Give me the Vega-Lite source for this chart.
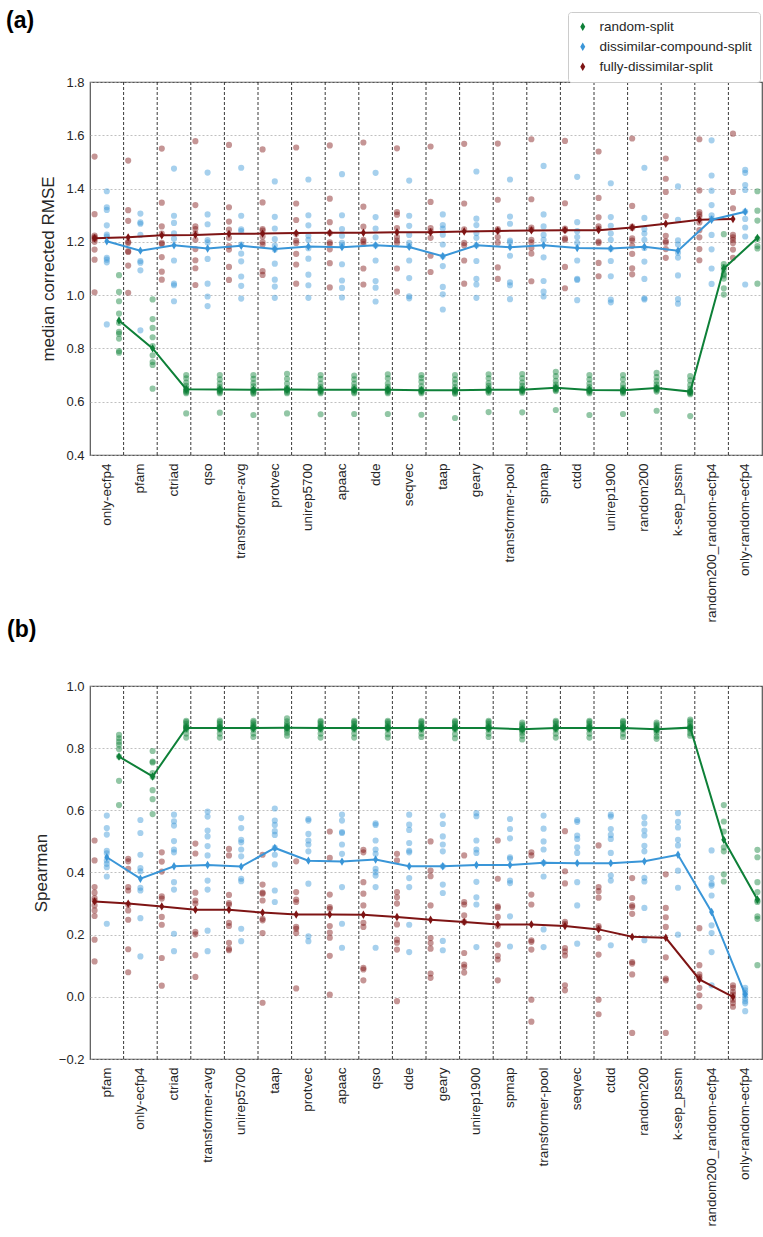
{
  "$schema": "https://vega.github.io/schema/vega-lite/v6.json",
  "padding": {"left": 5, "top": 8, "right": 0, "bottom": 0},
  "background": "white",
  "config": {
    "font": "Liberation Sans",
    "view": {"stroke": "#555555", "strokeWidth": 1.2},
    "axis": {"domain": false, "ticks": false, "labelColor": "#262626", "titleColor": "#262626", "labelFont": "Liberation Sans", "titleFont": "Liberation Sans", "titleFontWeight": "normal"},
    "title": {"font": "Liberation Sans", "color": "#000000"}
  },
  "bounds": "flush",
  "spacing": 231,
  "resolve": {"legend": {"color": "independent"}},
  "datasets": {
    "gridA": [{"category": "pfam"}, {"category": "ctriad"}, {"category": "qso"}, {"category": "transformer-avg"}, {"category": "protvec"}, {"category": "unirep5700"}, {"category": "apaac"}, {"category": "dde"}, {"category": "seqvec"}, {"category": "taap"}, {"category": "geary"}, {"category": "transformer-pool"}, {"category": "spmap"}, {"category": "ctdd"}, {"category": "unirep1900"}, {"category": "random200"}, {"category": "k-sep_pssm"}, {"category": "random200_random-ecfp4"}, {"category": "only-random-ecfp4"}],
    "gridB": [{"category": "only-ecfp4"}, {"category": "ctriad"}, {"category": "transformer-avg"}, {"category": "unirep5700"}, {"category": "taap"}, {"category": "protvec"}, {"category": "apaac"}, {"category": "qso"}, {"category": "dde"}, {"category": "geary"}, {"category": "unirep1900"}, {"category": "spmap"}, {"category": "transformer-pool"}, {"category": "seqvec"}, {"category": "ctdd"}, {"category": "random200"}, {"category": "k-sep_pssm"}, {"category": "random200_random-ecfp4"}, {"category": "only-random-ecfp4"}],
    "ptsA": [
      {"category": "only-ecfp4", "split": "fully-dissimilar-split", "value": [1.52,1.304,1.224,1.218,1.214,1.21,1.2,1.171,1.133,1.011]},
      {"category": "only-ecfp4", "split": "dissimilar-compound-split", "value": [1.39,1.33,1.32,1.262,1.227,1.22,1.14,1.133,1.123,0.89]},
      {"category": "only-ecfp4", "split": "random-split", "value": [1.075,1.012,0.977,0.931,0.896,0.862,0.855,0.837,0.79,0.784]},
      {"category": "pfam", "split": "fully-dissimilar-split", "value": [1.505,1.319,1.279,1.2,1.196,1.165,1.162,1.111,1.009]},
      {"category": "pfam", "split": "dissimilar-compound-split", "value": [1.306,1.273,1.268,1.226,1.128,1.122,1.093,0.868]},
      {"category": "pfam", "split": "random-split", "value": [0.984,0.91,0.877,0.842,0.809,0.774,0.749,0.738,0.649]},
      {"category": "ctriad", "split": "fully-dissimilar-split", "value": [1.55,1.347,1.258,1.231,1.196,1.192,1.143,1.088,1.058]},
      {"category": "ctriad", "split": "dissimilar-compound-split", "value": [1.475,1.298,1.271,1.232,1.212,1.13,1.043,1.037,0.977]},
      {"category": "ctriad", "split": "random-split", "value": [0.7,0.688,0.672,0.66,0.65,0.645,0.64,0.636,0.632,0.556]},
      {"category": "qso", "split": "fully-dissimilar-split", "value": [1.578,1.338,1.258,1.248,1.231,1.208,1.173,1.131,1.101,1.038]},
      {"category": "qso", "split": "dissimilar-compound-split", "value": [1.46,1.303,1.266,1.207,1.198,1.136,1.043,0.995,0.959]},
      {"category": "qso", "split": "random-split", "value": [0.7,0.684,0.668,0.655,0.648,0.645,0.64,0.636,0.632,0.559]},
      {"category": "transformer-avg", "split": "fully-dissimilar-split", "value": [1.564,1.33,1.276,1.246,1.215,1.184,1.171,1.106,1.057]},
      {"category": "transformer-avg", "split": "dissimilar-compound-split", "value": [1.478,1.298,1.247,1.24,1.19,1.156,1.127,1.07,1.035,0.987]},
      {"category": "transformer-avg", "split": "random-split", "value": [0.7,0.686,0.67,0.658,0.646,0.643,0.638,0.634,0.63,0.55]},
      {"category": "protvec", "split": "fully-dissimilar-split", "value": [1.547,1.348,1.248,1.242,1.22,1.199,1.19,1.09,1.076]},
      {"category": "protvec", "split": "dissimilar-compound-split", "value": [1.427,1.294,1.25,1.21,1.186,1.171,1.118,1.058,1.032,0.99]},
      {"category": "protvec", "split": "random-split", "value": [0.705,0.686,0.668,0.652,0.648,0.646,0.642,0.636,0.632,0.556]},
      {"category": "unirep5700", "split": "fully-dissimilar-split", "value": [1.554,1.344,1.282,1.23,1.205,1.196,1.155,1.115,1.043]},
      {"category": "unirep5700", "split": "dissimilar-compound-split", "value": [1.434,1.3,1.262,1.223,1.208,1.176,1.137,1.077,1.037,0.99]},
      {"category": "unirep5700", "split": "random-split", "value": [0.7,0.686,0.668,0.655,0.648,0.645,0.64,0.636,0.632,0.553]},
      {"category": "apaac", "split": "fully-dissimilar-split", "value": [1.562,1.362,1.274,1.233,1.198,1.192,1.172,1.12,1.029]},
      {"category": "apaac", "split": "dissimilar-compound-split", "value": [1.454,1.3,1.248,1.223,1.196,1.187,1.116,1.055,1.027,0.991]},
      {"category": "apaac", "split": "random-split", "value": [0.698,0.684,0.668,0.655,0.648,0.645,0.642,0.636,0.632,0.554]},
      {"category": "dde", "split": "fully-dissimilar-split", "value": [1.573,1.332,1.257,1.208,1.201,1.192,1.1,1.04]},
      {"category": "dde", "split": "dissimilar-compound-split", "value": [1.459,1.293,1.25,1.217,1.187,1.13,1.053,1.028,0.976]},
      {"category": "dde", "split": "random-split", "value": [0.703,0.688,0.668,0.656,0.648,0.645,0.64,0.636,0.632,0.554]},
      {"category": "seqvec", "split": "fully-dissimilar-split", "value": [1.551,1.312,1.302,1.252,1.218,1.205,1.196,1.1,1.013]},
      {"category": "seqvec", "split": "dissimilar-compound-split", "value": [1.43,1.298,1.26,1.226,1.196,1.184,1.13,1.064,0.996,0.988]},
      {"category": "seqvec", "split": "random-split", "value": [0.7,0.689,0.675,0.658,0.646,0.643,0.64,0.636,0.632,0.551]},
      {"category": "taap", "split": "fully-dissimilar-split", "value": [1.558,1.35,1.252,1.24,1.215,1.148,1.087]},
      {"category": "taap", "split": "dissimilar-compound-split", "value": [1.303,1.263,1.25,1.227,1.19,1.146,1.109,1.031,1.003,0.946]},
      {"category": "taap", "split": "random-split", "value": [0.7,0.684,0.67,0.655,0.646,0.643,0.638,0.634,0.63,0.539]},
      {"category": "geary", "split": "fully-dissimilar-split", "value": [1.568,1.344,1.247,1.196,1.187,1.13,1.043]},
      {"category": "geary", "split": "dissimilar-compound-split", "value": [1.464,1.287,1.263,1.233,1.215,1.187,1.128,1.061,1.04,0.99]},
      {"category": "geary", "split": "random-split", "value": [0.703,0.688,0.67,0.66,0.65,0.646,0.643,0.638,0.634,0.561]},
      {"category": "transformer-pool", "split": "fully-dissimilar-split", "value": [1.569,1.358,1.248,1.242,1.218,1.197,1.104,1.061]},
      {"category": "transformer-pool", "split": "dissimilar-compound-split", "value": [1.434,1.295,1.268,1.205,1.198,1.148,1.048,1.037,0.985]},
      {"category": "transformer-pool", "split": "random-split", "value": [0.704,0.688,0.672,0.66,0.65,0.646,0.642,0.638,0.634,0.56]},
      {"category": "spmap", "split": "fully-dissimilar-split", "value": [1.585,1.36,1.254,1.246,1.208,1.198,1.177,1.156,1.052]},
      {"category": "spmap", "split": "dissimilar-compound-split", "value": [1.485,1.303,1.258,1.226,1.208,1.142,1.053,1.013,0.995]},
      {"category": "spmap", "split": "random-split", "value": [0.712,0.696,0.678,0.664,0.656,0.652,0.648,0.644,0.64,0.569]},
      {"category": "ctdd", "split": "fully-dissimilar-split", "value": [1.579,1.345,1.25,1.244,1.213,1.208,1.106,1.026]},
      {"category": "ctdd", "split": "dissimilar-compound-split", "value": [1.444,1.274,1.24,1.218,1.196,1.13,1.061,1.057,0.981]},
      {"category": "ctdd", "split": "random-split", "value": [0.7,0.684,0.668,0.655,0.647,0.644,0.64,0.636,0.632,0.55]},
      {"category": "unirep1900", "split": "fully-dissimilar-split", "value": [1.539,1.365,1.292,1.258,1.25,1.201,1.196,1.121,1.071]},
      {"category": "unirep1900", "split": "dissimilar-compound-split", "value": [1.42,1.293,1.26,1.231,1.208,1.174,1.128,1.071,0.983,0.973]},
      {"category": "unirep1900", "split": "random-split", "value": [0.7,0.684,0.665,0.652,0.646,0.643,0.64,0.636,0.632,0.554]},
      {"category": "random200", "split": "fully-dissimilar-split", "value": [1.588,1.335,1.257,1.252,1.213,1.205,1.185,1.155,1.101,1.078]},
      {"category": "random200", "split": "dissimilar-compound-split", "value": [1.478,1.29,1.248,1.231,1.208,1.177,1.126,1.061,0.988,0.984]},
      {"category": "random200", "split": "random-split", "value": [0.708,0.692,0.677,0.664,0.655,0.651,0.647,0.643,0.638,0.566]},
      {"category": "k-sep_pssm", "split": "fully-dissimilar-split", "value": [1.513,1.437,1.387,1.297,1.223,1.203,1.197,1.173,1.14]},
      {"category": "k-sep_pssm", "split": "dissimilar-compound-split", "value": [1.408,1.283,1.206,1.19,1.159,1.141,1.074,0.985,0.968]},
      {"category": "k-sep_pssm", "split": "random-split", "value": [0.696,0.68,0.662,0.648,0.64,0.638,0.635,0.632,0.628,0.546]},
      {"category": "random200_random-ecfp4", "split": "fully-dissimilar-split", "value": [1.585,1.393,1.312,1.303,1.295,1.273,1.244,1.217,1.173,1.131]},
      {"category": "random200_random-ecfp4", "split": "dissimilar-compound-split", "value": [1.581,1.449,1.392,1.338,1.3,1.287,1.226,1.172,1.1,1.042]},
      {"category": "random200_random-ecfp4", "split": "random-split", "value": [1.229,1.117,1.105,1.095,1.08,1.074,1.062,1.026,1.002]},
      {"category": "only-random-ecfp4", "split": "fully-dissimilar-split", "value": [1.606,1.387,1.326,1.226,1.217,1.208,1.196,1.171,1.14]},
      {"category": "only-random-ecfp4", "split": "dissimilar-compound-split", "value": [1.47,1.459,1.413,1.395,1.314,1.286,1.254,1.22,1.04]},
      {"category": "only-random-ecfp4", "split": "random-split", "value": [1.39,1.317,1.28,1.211,1.184,1.175,1.043]}
    ],
    "medA": [
      {"i": 1, "category": "only-ecfp4", "split": "fully-dissimilar-split", "median": 1.214},
      {"i": 1, "category": "only-ecfp4", "split": "dissimilar-compound-split", "median": 1.202},
      {"i": 1, "category": "only-ecfp4", "split": "random-split", "median": 0.905},
      {"i": 2, "category": "pfam", "split": "fully-dissimilar-split", "median": 1.217},
      {"i": 2, "category": "pfam", "split": "dissimilar-compound-split", "median": 1.167},
      {"i": 2, "category": "pfam", "split": "random-split", "median": 0.80},
      {"i": 3, "category": "ctriad", "split": "fully-dissimilar-split", "median": 1.225},
      {"i": 3, "category": "ctriad", "split": "dissimilar-compound-split", "median": 1.187},
      {"i": 3, "category": "ctriad", "split": "random-split", "median": 0.647},
      {"i": 4, "category": "qso", "split": "fully-dissimilar-split", "median": 1.226},
      {"i": 4, "category": "qso", "split": "dissimilar-compound-split", "median": 1.175},
      {"i": 4, "category": "qso", "split": "random-split", "median": 0.646},
      {"i": 5, "category": "transformer-avg", "split": "fully-dissimilar-split", "median": 1.23},
      {"i": 5, "category": "transformer-avg", "split": "dissimilar-compound-split", "median": 1.185},
      {"i": 5, "category": "transformer-avg", "split": "random-split", "median": 0.645},
      {"i": 6, "category": "protvec", "split": "fully-dissimilar-split", "median": 1.231},
      {"i": 6, "category": "protvec", "split": "dissimilar-compound-split", "median": 1.173},
      {"i": 6, "category": "protvec", "split": "random-split", "median": 0.646},
      {"i": 7, "category": "unirep5700", "split": "fully-dissimilar-split", "median": 1.233},
      {"i": 7, "category": "unirep5700", "split": "dissimilar-compound-split", "median": 1.183},
      {"i": 7, "category": "unirep5700", "split": "random-split", "median": 0.645},
      {"i": 8, "category": "apaac", "split": "fully-dissimilar-split", "median": 1.234},
      {"i": 8, "category": "apaac", "split": "dissimilar-compound-split", "median": 1.18},
      {"i": 8, "category": "apaac", "split": "random-split", "median": 0.645},
      {"i": 9, "category": "dde", "split": "fully-dissimilar-split", "median": 1.234},
      {"i": 9, "category": "dde", "split": "dissimilar-compound-split", "median": 1.187},
      {"i": 9, "category": "dde", "split": "random-split", "median": 0.645},
      {"i": 10, "category": "seqvec", "split": "fully-dissimilar-split", "median": 1.236},
      {"i": 10, "category": "seqvec", "split": "dissimilar-compound-split", "median": 1.181},
      {"i": 10, "category": "seqvec", "split": "random-split", "median": 0.643},
      {"i": 11, "category": "taap", "split": "fully-dissimilar-split", "median": 1.236},
      {"i": 11, "category": "taap", "split": "dissimilar-compound-split", "median": 1.146},
      {"i": 11, "category": "taap", "split": "random-split", "median": 0.643},
      {"i": 12, "category": "geary", "split": "fully-dissimilar-split", "median": 1.239},
      {"i": 12, "category": "geary", "split": "dissimilar-compound-split", "median": 1.187},
      {"i": 12, "category": "geary", "split": "random-split", "median": 0.645},
      {"i": 13, "category": "transformer-pool", "split": "fully-dissimilar-split", "median": 1.241},
      {"i": 13, "category": "transformer-pool", "split": "dissimilar-compound-split", "median": 1.18},
      {"i": 13, "category": "transformer-pool", "split": "random-split", "median": 0.645},
      {"i": 14, "category": "spmap", "split": "fully-dissimilar-split", "median": 1.243},
      {"i": 14, "category": "spmap", "split": "dissimilar-compound-split", "median": 1.187},
      {"i": 14, "category": "spmap", "split": "random-split", "median": 0.652},
      {"i": 15, "category": "ctdd", "split": "fully-dissimilar-split", "median": 1.244},
      {"i": 15, "category": "ctdd", "split": "dissimilar-compound-split", "median": 1.177},
      {"i": 15, "category": "ctdd", "split": "random-split", "median": 0.644},
      {"i": 16, "category": "unirep1900", "split": "fully-dissimilar-split", "median": 1.244},
      {"i": 16, "category": "unirep1900", "split": "dissimilar-compound-split", "median": 1.175},
      {"i": 16, "category": "unirep1900", "split": "random-split", "median": 0.643},
      {"i": 17, "category": "random200", "split": "fully-dissimilar-split", "median": 1.254},
      {"i": 17, "category": "random200", "split": "dissimilar-compound-split", "median": 1.182},
      {"i": 17, "category": "random200", "split": "random-split", "median": 0.651},
      {"i": 18, "category": "k-sep_pssm", "split": "fully-dissimilar-split", "median": 1.268},
      {"i": 18, "category": "k-sep_pssm", "split": "dissimilar-compound-split", "median": 1.167},
      {"i": 18, "category": "k-sep_pssm", "split": "random-split", "median": 0.638},
      {"i": 19, "category": "random200_random-ecfp4", "split": "fully-dissimilar-split", "median": 1.283},
      {"i": 19, "category": "random200_random-ecfp4", "split": "dissimilar-compound-split", "median": 1.283},
      {"i": 19, "category": "random200_random-ecfp4", "split": "random-split", "median": 1.10},
      {"i": 20, "category": "only-random-ecfp4", "split": "fully-dissimilar-split", "median": 1.286},
      {"i": 20, "category": "only-random-ecfp4", "split": "dissimilar-compound-split", "median": 1.313},
      {"i": 20, "category": "only-random-ecfp4", "split": "random-split", "median": 1.215}
    ],
    "ptsB": [
      {"category": "pfam", "split": "fully-dissimilar-split", "value": [0.503,0.439,0.353,0.335,0.318,0.31,0.294,0.278,0.26,0.184,0.114]},
      {"category": "pfam", "split": "dissimilar-compound-split", "value": [0.583,0.543,0.522,0.47,0.462,0.439,0.428,0.417,0.387,0.235]},
      {"category": "pfam", "split": "random-split", "value": [0.843,0.832,0.821,0.811,0.797,0.773,0.695,0.617]},
      {"category": "only-ecfp4", "split": "fully-dissimilar-split", "value": [0.444,0.436,0.412,0.353,0.342,0.296,0.278,0.248,0.153,0.079]},
      {"category": "only-ecfp4", "split": "dissimilar-compound-split", "value": [0.569,0.527,0.457,0.414,0.404,0.351,0.342,0.253,0.13]},
      {"category": "only-ecfp4", "split": "random-split", "value": [0.791,0.757,0.754,0.72,0.708,0.665,0.636,0.588]},
      {"category": "ctriad", "split": "fully-dissimilar-split", "value": [0.465,0.435,0.403,0.323,0.316,0.257,0.232,0.125,0.036]},
      {"category": "ctriad", "split": "dissimilar-compound-split", "value": [0.586,0.565,0.551,0.501,0.474,0.465,0.369,0.345,0.203,0.147]},
      {"category": "ctriad", "split": "random-split", "value": [0.888,0.884,0.878,0.872,0.868,0.866,0.864,0.86,0.847,0.834]},
      {"category": "transformer-avg", "split": "fully-dissimilar-split", "value": [0.493,0.461,0.335,0.31,0.3,0.209,0.201,0.134,0.064]},
      {"category": "transformer-avg", "split": "dissimilar-compound-split", "value": [0.596,0.58,0.535,0.516,0.485,0.455,0.374,0.345,0.213,0.147]},
      {"category": "transformer-avg", "split": "random-split", "value": [0.889,0.884,0.878,0.872,0.868,0.866,0.864,0.86,0.847,0.834]},
      {"category": "unirep5700", "split": "fully-dissimilar-split", "value": [0.476,0.455,0.328,0.302,0.296,0.238,0.228,0.174,0.155,0.15]},
      {"category": "unirep5700", "split": "dissimilar-compound-split", "value": [0.575,0.543,0.505,0.497,0.474,0.452,0.38,0.372,0.219,0.179]},
      {"category": "unirep5700", "split": "random-split", "value": [0.888,0.883,0.877,0.872,0.868,0.866,0.864,0.86,0.847,0.836]},
      {"category": "taap", "split": "fully-dissimilar-split", "value": [0.457,0.361,0.335,0.332,0.31,0.251,0.246,0.205,-0.019]},
      {"category": "taap", "split": "dissimilar-compound-split", "value": [0.606,0.567,0.553,0.533,0.521,0.479,0.457,0.426,0.342,0.305]},
      {"category": "taap", "split": "random-split", "value": [0.896,0.886,0.878,0.872,0.868,0.866,0.864,0.858,0.85,0.84]},
      {"category": "protvec", "split": "fully-dissimilar-split", "value": [0.436,0.337,0.313,0.305,0.225,0.219,0.205,0.027]},
      {"category": "protvec", "split": "dissimilar-compound-split", "value": [0.572,0.567,0.524,0.503,0.49,0.468,0.364,0.195,0.179]},
      {"category": "protvec", "split": "random-split", "value": [0.888,0.884,0.878,0.872,0.868,0.866,0.864,0.86,0.847,0.834]},
      {"category": "apaac", "split": "fully-dissimilar-split", "value": [0.532,0.447,0.329,0.289,0.283,0.228,0.207,0.19,0.132,0.007]},
      {"category": "apaac", "split": "dissimilar-compound-split", "value": [0.586,0.567,0.53,0.527,0.49,0.46,0.353,0.235,0.158]},
      {"category": "apaac", "split": "random-split", "value": [0.888,0.884,0.878,0.872,0.868,0.866,0.864,0.86,0.847,0.834]},
      {"category": "qso", "split": "fully-dissimilar-split", "value": [0.473,0.465,0.369,0.332,0.294,0.238,0.225,0.093,0.088,0.053]},
      {"category": "qso", "split": "dissimilar-compound-split", "value": [0.558,0.553,0.503,0.474,0.46,0.412,0.401,0.39,0.353,0.158]},
      {"category": "qso", "split": "random-split", "value": [0.888,0.884,0.878,0.872,0.868,0.866,0.864,0.86,0.845,0.834]},
      {"category": "dde", "split": "fully-dissimilar-split", "value": [0.46,0.439,0.337,0.32,0.3,0.233,0.184,0.174,0.152,-0.014]},
      {"category": "dde", "split": "dissimilar-compound-split", "value": [0.586,0.554,0.537,0.495,0.47,0.465,0.382,0.353,0.232,0.144]},
      {"category": "dde", "split": "random-split", "value": [0.888,0.884,0.878,0.872,0.868,0.866,0.864,0.86,0.847,0.836]},
      {"category": "geary", "split": "fully-dissimilar-split", "value": [0.5,0.406,0.388,0.294,0.189,0.173,0.155,0.075,0.061]},
      {"category": "geary", "split": "dissimilar-compound-split", "value": [0.583,0.556,0.516,0.49,0.468,0.42,0.361,0.334,0.18,0.15]},
      {"category": "geary", "split": "random-split", "value": [0.888,0.884,0.878,0.872,0.868,0.866,0.864,0.86,0.845,0.832]},
      {"category": "unirep1900", "split": "fully-dissimilar-split", "value": [0.455,0.305,0.297,0.262,0.241,0.141,0.104,0.096,0.078]},
      {"category": "unirep1900", "split": "dissimilar-compound-split", "value": [0.591,0.581,0.503,0.474,0.463,0.37,0.32,0.297,0.16]},
      {"category": "unirep1900", "split": "random-split", "value": [0.888,0.884,0.878,0.872,0.868,0.866,0.864,0.86,0.847,0.836]},
      {"category": "spmap", "split": "fully-dissimilar-split", "value": [0.503,0.38,0.291,0.286,0.257,0.227,0.168,0.132,0.12,0.053]},
      {"category": "spmap", "split": "dissimilar-compound-split", "value": [0.572,0.54,0.51,0.449,0.444,0.374,0.366,0.259,0.162]},
      {"category": "spmap", "split": "random-split", "value": [0.882,0.876,0.87,0.865,0.862,0.86,0.857,0.85,0.84,0.828]},
      {"category": "transformer-pool", "split": "fully-dissimilar-split", "value": [0.465,0.455,0.329,0.297,0.182,0.177,0.152,-0.009,-0.08]},
      {"category": "transformer-pool", "split": "dissimilar-compound-split", "value": [0.583,0.541,0.5,0.474,0.431,0.387,0.217,0.16]},
      {"category": "transformer-pool", "split": "random-split", "value": [0.888,0.884,0.878,0.872,0.868,0.866,0.864,0.86,0.847,0.834]},
      {"category": "seqvec", "split": "fully-dissimilar-split", "value": [0.533,0.404,0.365,0.241,0.235,0.157,0.146,0.133,0.037,0.021]},
      {"category": "seqvec", "split": "dissimilar-compound-split", "value": [0.569,0.563,0.519,0.508,0.481,0.463,0.369,0.294,0.171]},
      {"category": "seqvec", "split": "random-split", "value": [0.888,0.884,0.878,0.872,0.868,0.866,0.864,0.86,0.847,0.834]},
      {"category": "ctdd", "split": "fully-dissimilar-split", "value": [0.487,0.353,0.34,0.319,0.228,0.222,0.19,0.136,-0.009,-0.056]},
      {"category": "ctdd", "split": "dissimilar-compound-split", "value": [0.586,0.58,0.54,0.521,0.508,0.463,0.39,0.374,0.166]},
      {"category": "ctdd", "split": "random-split", "value": [0.888,0.884,0.878,0.872,0.868,0.866,0.864,0.86,0.847,0.836]},
      {"category": "random200", "split": "fully-dissimilar-split", "value": [0.382,0.318,0.294,0.289,0.267,0.112,0.107,0.072,-0.116]},
      {"category": "random200", "split": "dissimilar-compound-split", "value": [0.578,0.558,0.535,0.519,0.486,0.468,0.383,0.371,0.286,0.182]},
      {"category": "random200", "split": "random-split", "value": [0.882,0.877,0.872,0.866,0.862,0.86,0.857,0.85,0.838,0.83]},
      {"category": "k-sep_pssm", "split": "fully-dissimilar-split", "value": [0.394,0.286,0.256,0.225,0.127,0.059,0.053,-0.116]},
      {"category": "k-sep_pssm", "split": "dissimilar-compound-split", "value": [0.591,0.563,0.545,0.505,0.487,0.406,0.351,0.2]},
      {"category": "k-sep_pssm", "split": "random-split", "value": [0.892,0.886,0.88,0.872,0.868,0.866,0.863,0.858,0.848,0.84]},
      {"category": "random200_random-ecfp4", "split": "fully-dissimilar-split", "value": [0.221,0.102,0.072,0.064,0.059,0.029,0.005,-0.032]},
      {"category": "random200_random-ecfp4", "split": "dissimilar-compound-split", "value": [0.471,0.382,0.364,0.358,0.326,0.23,0.205,0.144,0.037]},
      {"category": "random200_random-ecfp4", "split": "random-split", "value": [0.617,0.564,0.532,0.481,0.468,0.394,0.371]},
      {"category": "only-random-ecfp4", "split": "fully-dissimilar-split", "value": [0.037,0.029,0.016,0.007,-0.009,-0.02,-0.032]},
      {"category": "only-random-ecfp4", "split": "dissimilar-compound-split", "value": [0.029,0.021,0.013,0.005,-0.005,-0.014,-0.021,-0.046]},
      {"category": "only-random-ecfp4", "split": "random-split", "value": [0.473,0.449,0.369,0.337,0.31,0.305,0.259,0.251,0.102]}
    ],
    "medB": [
      {"i": 1, "category": "pfam", "split": "fully-dissimilar-split", "median": 0.307},
      {"i": 1, "category": "pfam", "split": "dissimilar-compound-split", "median": 0.449},
      {"i": 1, "category": "pfam", "split": "random-split", "median": 0.773},
      {"i": 2, "category": "only-ecfp4", "split": "fully-dissimilar-split", "median": 0.30},
      {"i": 2, "category": "only-ecfp4", "split": "dissimilar-compound-split", "median": 0.38},
      {"i": 2, "category": "only-ecfp4", "split": "random-split", "median": 0.709},
      {"i": 3, "category": "ctriad", "split": "fully-dissimilar-split", "median": 0.291},
      {"i": 3, "category": "ctriad", "split": "dissimilar-compound-split", "median": 0.42},
      {"i": 3, "category": "ctriad", "split": "random-split", "median": 0.865},
      {"i": 4, "category": "transformer-avg", "split": "fully-dissimilar-split", "median": 0.28},
      {"i": 4, "category": "transformer-avg", "split": "dissimilar-compound-split", "median": 0.424},
      {"i": 4, "category": "transformer-avg", "split": "random-split", "median": 0.865},
      {"i": 5, "category": "unirep5700", "split": "fully-dissimilar-split", "median": 0.28},
      {"i": 5, "category": "unirep5700", "split": "dissimilar-compound-split", "median": 0.419},
      {"i": 5, "category": "unirep5700", "split": "random-split", "median": 0.865},
      {"i": 6, "category": "taap", "split": "fully-dissimilar-split", "median": 0.271},
      {"i": 6, "category": "taap", "split": "dissimilar-compound-split", "median": 0.479},
      {"i": 6, "category": "taap", "split": "random-split", "median": 0.866},
      {"i": 7, "category": "protvec", "split": "fully-dissimilar-split", "median": 0.265},
      {"i": 7, "category": "protvec", "split": "dissimilar-compound-split", "median": 0.438},
      {"i": 7, "category": "protvec", "split": "random-split", "median": 0.865},
      {"i": 8, "category": "apaac", "split": "fully-dissimilar-split", "median": 0.265},
      {"i": 8, "category": "apaac", "split": "dissimilar-compound-split", "median": 0.435},
      {"i": 8, "category": "apaac", "split": "random-split", "median": 0.865},
      {"i": 9, "category": "qso", "split": "fully-dissimilar-split", "median": 0.264},
      {"i": 9, "category": "qso", "split": "dissimilar-compound-split", "median": 0.442},
      {"i": 9, "category": "qso", "split": "random-split", "median": 0.865},
      {"i": 10, "category": "dde", "split": "fully-dissimilar-split", "median": 0.257},
      {"i": 10, "category": "dde", "split": "dissimilar-compound-split", "median": 0.42},
      {"i": 10, "category": "dde", "split": "random-split", "median": 0.865},
      {"i": 11, "category": "geary", "split": "fully-dissimilar-split", "median": 0.248},
      {"i": 11, "category": "geary", "split": "dissimilar-compound-split", "median": 0.42},
      {"i": 11, "category": "geary", "split": "random-split", "median": 0.865},
      {"i": 12, "category": "unirep1900", "split": "fully-dissimilar-split", "median": 0.241},
      {"i": 12, "category": "unirep1900", "split": "dissimilar-compound-split", "median": 0.424},
      {"i": 12, "category": "unirep1900", "split": "random-split", "median": 0.865},
      {"i": 13, "category": "spmap", "split": "fully-dissimilar-split", "median": 0.233},
      {"i": 13, "category": "spmap", "split": "dissimilar-compound-split", "median": 0.424},
      {"i": 13, "category": "spmap", "split": "random-split", "median": 0.861},
      {"i": 14, "category": "transformer-pool", "split": "fully-dissimilar-split", "median": 0.233},
      {"i": 14, "category": "transformer-pool", "split": "dissimilar-compound-split", "median": 0.431},
      {"i": 14, "category": "transformer-pool", "split": "random-split", "median": 0.865},
      {"i": 15, "category": "seqvec", "split": "fully-dissimilar-split", "median": 0.228},
      {"i": 15, "category": "seqvec", "split": "dissimilar-compound-split", "median": 0.43},
      {"i": 15, "category": "seqvec", "split": "random-split", "median": 0.865},
      {"i": 16, "category": "ctdd", "split": "fully-dissimilar-split", "median": 0.217},
      {"i": 16, "category": "ctdd", "split": "dissimilar-compound-split", "median": 0.43},
      {"i": 16, "category": "ctdd", "split": "random-split", "median": 0.865},
      {"i": 17, "category": "random200", "split": "fully-dissimilar-split", "median": 0.193},
      {"i": 17, "category": "random200", "split": "dissimilar-compound-split", "median": 0.436},
      {"i": 17, "category": "random200", "split": "random-split", "median": 0.861},
      {"i": 18, "category": "k-sep_pssm", "split": "fully-dissimilar-split", "median": 0.19},
      {"i": 18, "category": "k-sep_pssm", "split": "dissimilar-compound-split", "median": 0.457},
      {"i": 18, "category": "k-sep_pssm", "split": "random-split", "median": 0.866},
      {"i": 19, "category": "random200_random-ecfp4", "split": "fully-dissimilar-split", "median": 0.056},
      {"i": 19, "category": "random200_random-ecfp4", "split": "dissimilar-compound-split", "median": 0.273},
      {"i": 19, "category": "random200_random-ecfp4", "split": "random-split", "median": 0.505},
      {"i": 20, "category": "only-random-ecfp4", "split": "fully-dissimilar-split", "median": 0.0},
      {"i": 20, "category": "only-random-ecfp4", "split": "dissimilar-compound-split", "median": 0.008},
      {"i": 20, "category": "only-random-ecfp4", "split": "random-split", "median": 0.313}
    ]
  },
  "vconcat": [
    {
      "title": {"text": "(a)", "anchor": "start", "frame": "group", "fontSize": 23, "fontWeight": "bold", "dx": -84, "offset": -21},
      "width": 672,
      "height": 373,
      "layer": [
        {
          "data": {"name": "gridA"},
          "mark": {"type": "rule", "strokeDash": [3, 2], "color": "#222222", "strokeWidth": 0.9},
          "encoding": {
            "x": {"field": "category", "type": "nominal", "bandPosition": 0,
                  "scale": {"domain": ["only-ecfp4","pfam","ctriad","qso","transformer-avg","protvec","unirep5700","apaac","dde","seqvec","taap","geary","transformer-pool","spmap","ctdd","unirep1900","random200","k-sep_pssm","random200_random-ecfp4","only-random-ecfp4"], "paddingInner": 0, "paddingOuter": 0},
                  "axis": {"title": null, "labelAngle": -90, "labelFontSize": 13.5, "labelPadding": 8, "grid": false}}
          }
        },
        {
          "data": {"name": "ptsA"},
          "transform": [{"flatten": ["value"]}],
          "mark": {"type": "circle", "size": 38, "opacity": 0.45},
          "encoding": {
            "x": {"field": "category", "type": "nominal"},
            "xOffset": {"field": "split", "type": "nominal", "scale": {"domain": ["fully-dissimilar-split","dissimilar-compound-split","random-split"], "paddingInner": 0, "paddingOuter": 0.375}},
            "y": {"field": "value", "type": "quantitative",
                  "scale": {"domain": [0.4, 1.8], "nice": false, "zero": false},
                  "axis": {"title": "median corrected RMSE", "values": [0.4,0.6,0.8,1.0,1.2,1.4,1.6,1.8], "format": ".1f", "grid": true, "gridDash": [2, 2], "gridColor": "#b0b0b0", "gridWidth": 0.8, "labelFontSize": 13, "titleFontSize": 17, "labelPadding": 6, "titlePadding": 8}},
            "color": {"field": "split", "type": "nominal",
                      "scale": {"domain": ["random-split","dissimilar-compound-split","fully-dissimilar-split"], "range": ["#0e8038","#3a96d8","#7e1414"]},
                      "legend": {"title": null, "orient": "none", "legendX": 478, "legendY": -70, "symbolType": "M0,-1L0.6,0L0,1L-0.6,0Z", "symbolSize": 70, "symbolOpacity": 1, "symbolStrokeWidth": 0, "labelFontSize": 13.5, "labelColor": "#262626", "strokeColor": "#cccccc", "fillColor": "white", "padding": 8, "cornerRadius": 3, "rowPadding": 5, "labelOffset": 10}}
          }
        },
        {
          "data": {"name": "medA"},
          "mark": {"type": "line", "strokeWidth": 2},
          "encoding": {
            "x": {"field": "category", "type": "nominal"},
            "xOffset": {"field": "split", "type": "nominal"},
            "y": {"field": "median", "type": "quantitative"},
            "color": {"field": "split", "type": "nominal", "legend": null},
            "order": {"field": "i", "type": "quantitative"}
          }
        },
        {
          "data": {"name": "medA"},
          "mark": {"type": "point", "filled": true, "opacity": 1, "size": 70, "shape": "M0,-1L0.6,0L0,1L-0.6,0Z"},
          "encoding": {
            "x": {"field": "category", "type": "nominal"},
            "xOffset": {"field": "split", "type": "nominal"},
            "y": {"field": "median", "type": "quantitative"},
            "color": {"field": "split", "type": "nominal", "legend": null}
          }
        }
      ]
    },
    {
      "title": {"text": "(b)", "anchor": "start", "frame": "group", "fontSize": 23, "fontWeight": "bold", "dx": -83, "offset": 38},
      "width": 672,
      "height": 373,
      "layer": [
        {
          "data": {"name": "gridB"},
          "mark": {"type": "rule", "strokeDash": [3, 2], "color": "#222222", "strokeWidth": 0.9},
          "encoding": {
            "x": {"field": "category", "type": "nominal", "bandPosition": 0,
                  "scale": {"domain": ["pfam","only-ecfp4","ctriad","transformer-avg","unirep5700","taap","protvec","apaac","qso","dde","geary","unirep1900","spmap","transformer-pool","seqvec","ctdd","random200","k-sep_pssm","random200_random-ecfp4","only-random-ecfp4"], "paddingInner": 0, "paddingOuter": 0},
                  "axis": {"title": null, "labelAngle": -90, "labelFontSize": 13.5, "labelPadding": 8, "grid": false}}
          }
        },
        {
          "data": {"name": "ptsB"},
          "transform": [{"flatten": ["value"]}],
          "mark": {"type": "circle", "size": 38, "opacity": 0.45},
          "encoding": {
            "x": {"field": "category", "type": "nominal"},
            "xOffset": {"field": "split", "type": "nominal", "scale": {"domain": ["fully-dissimilar-split","dissimilar-compound-split","random-split"], "paddingInner": 0, "paddingOuter": 0.375}},
            "y": {"field": "value", "type": "quantitative",
                  "scale": {"domain": [-0.2, 1.0], "nice": false, "zero": false},
                  "axis": {"title": "Spearman", "values": [-0.2,0.0,0.2,0.4,0.6,0.8,1.0], "format": ".1f", "grid": true, "gridDash": [2, 2], "gridColor": "#b0b0b0", "gridWidth": 0.8, "labelFontSize": 13, "titleFontSize": 17, "labelPadding": 6, "titlePadding": 8}},
            "color": {"field": "split", "type": "nominal", "scale": {"domain": ["random-split","dissimilar-compound-split","fully-dissimilar-split"], "range": ["#0e8038","#3a96d8","#7e1414"]}, "legend": null}
          }
        },
        {
          "data": {"name": "medB"},
          "mark": {"type": "line", "strokeWidth": 2},
          "encoding": {
            "x": {"field": "category", "type": "nominal"},
            "xOffset": {"field": "split", "type": "nominal"},
            "y": {"field": "median", "type": "quantitative"},
            "color": {"field": "split", "type": "nominal", "legend": null},
            "order": {"field": "i", "type": "quantitative"}
          }
        },
        {
          "data": {"name": "medB"},
          "mark": {"type": "point", "filled": true, "opacity": 1, "size": 70, "shape": "M0,-1L0.6,0L0,1L-0.6,0Z"},
          "encoding": {
            "x": {"field": "category", "type": "nominal"},
            "xOffset": {"field": "split", "type": "nominal"},
            "y": {"field": "median", "type": "quantitative"},
            "color": {"field": "split", "type": "nominal", "legend": null}
          }
        }
      ]
    }
  ]
}
